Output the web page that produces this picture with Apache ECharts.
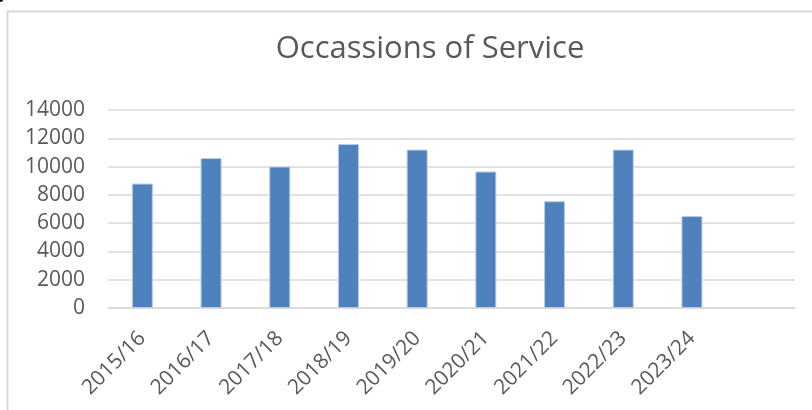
<!DOCTYPE html>
<html>
<head>
<meta charset="utf-8">
<title>Occassions of Service</title>
<script src="https://cdn.jsdelivr.net/npm/echarts@6/dist/echarts.min.js"></script>
<style>
  html, body { margin: 0; padding: 0; background: #ffffff; }
  #chart { width: 812px; height: 410px; }
</style>
</head>
<body>
<div id="chart"></div>
<script>
// Financial years (the trailing empty slot is a reserved category)
const years = ['2015/16', '2016/17', '2017/18', '2018/19', '2019/20', '2020/21', '2021/22', '2022/23', '2023/24', ''];
// Occasions of service per year
const services = [8800, 10600, 10000, 11600, 11200, 9650, 7550, 11200, 6500];
// Value axis range
const yMin = 0;
const yMax = 14000;
const yStep = 2000;

const textColor = '#595959';
const lineColor = '#d9d9d9';
const fontFamily = '"Open Sans", "Liberation Sans", sans-serif';

const chart = echarts.init(document.getElementById('chart'), null, { renderer: 'canvas' });

chart.setOption({
  backgroundColor: '#ffffff',
  animation: false,
  graphic: [
    {
      type: 'rect',
      shape: { x: 7.5, y: 11.5, width: 900, height: 500 },
      style: { fill: 'none', stroke: '#d9d9d9', lineWidth: 2 },
      silent: true,
      z: -10
    },
    {
      type: 'text',
      left: -3,
      top: -20,
      style: { text: 'y', font: 'bold 22px "Liberation Sans", sans-serif', fill: '#000000' },
      silent: true
    }
  ],
  title: {
    text: 'Occassions of Service',
    left: 425,
    top: 29,
    textAlign: 'center',
    textStyle: {
      color: textColor,
      fontFamily: fontFamily,
      fontSize: 31,
      fontWeight: 'normal'
    }
  },
  grid: {
    left: 108,
    right: 17,
    top: 110,
    bottom: 102,
    containLabel: false
  },
  xAxis: {
    type: 'category',
    data: years,
    axisLine: { show: true, lineStyle: { color: lineColor, width: 1.5 } },
    axisTick: { show: false },
    axisLabel: {
      rotate: 45,
      margin: 27,
      interval: 0,
      color: textColor,
      fontFamily: fontFamily,
      fontSize: 21
    }
  },
  yAxis: {
    type: 'value',
    min: yMin,
    max: yMax,
    interval: yStep,
    axisLine: { show: false },
    axisTick: { show: false },
    splitLine: { lineStyle: { color: lineColor, width: 1.5 } },
    axisLabel: {
      margin: 23,
      color: textColor,
      fontFamily: fontFamily,
      fontSize: 21,
      formatter: (v) => String(v)
    }
  },
  series: [
    {
      type: 'bar',
      data: services,
      barWidth: 21,
      itemStyle: {
        color: '#4f81bd',
        borderColor: '#b7cbe4',
        borderWidth: 1
      }
    }
  ]
});
</script>
</body>
</html>
